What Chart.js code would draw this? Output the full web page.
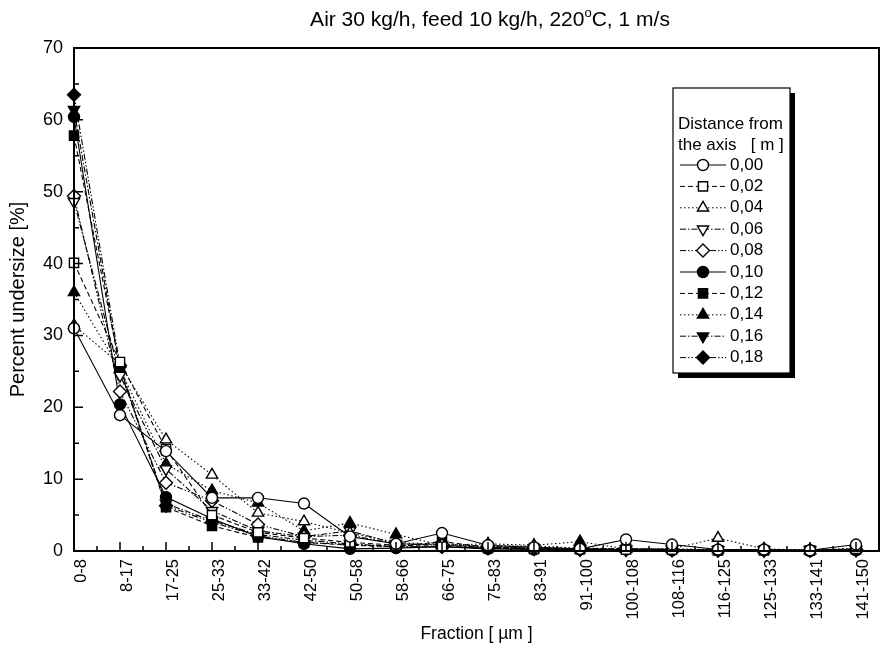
<html>
  <head>
    <meta charset="utf-8" />
    <title>Percent undersize</title>
    <style>
      body {
        margin: 0;
        padding: 0;
        background-color: #ffffff;
      }
      #wrap {
        width: 882px;
        height: 646px;
      }
    </style>
    <script src="https://cdn.jsdelivr.net/npm/chart.js"></script>
  </head>
  <body>
    <div id="wrap"><canvas id="psdChart" width="882" height="646"></canvas></div>
    <script>
      const fractions = ["0-8", "8-17", "17-25", "25-33", "33-42", "42-50", "50-58", "58-66", "66-75",
        "75-83", "83-91", "91-100", "100-108", "108-116", "116-125", "125-133", "133-141", "141-150"];
      const distances = ["0,00", "0,02", "0,04", "0,06", "0,08", "0,10", "0,12", "0,14", "0,16", "0,18"];

      const d000 = [31.0, 18.9, 13.9, 7.4, 7.4, 6.6, 2.0, 1.0, 2.5, 0.8, 0.5, 0.3, 1.6, 0.9, 0.2, 0.2, 0.1, 0.9];
      const d002 = [40.1, 26.3, 14.2, 5.0, 2.6, 1.8, 1.2, 0.8, 0.6, 0.4, 0.3, 0.3, 0.2, 0.2, 0.1, 0.1, 0.1, 0.3];
      const d004 = [31.4, 26.0, 15.5, 10.6, 5.3, 4.1, 2.5, 1.2, 0.9, 0.7, 0.7, 0.4, 0.3, 0.3, 1.8, 0.3, 0.1, 0.4];
      const d006 = [48.6, 24.4, 11.4, 5.6, 2.8, 2.0, 2.8, 1.0, 0.8, 0.5, 0.4, 0.3, 0.2, 0.2, 0.1, 0.1, 0.1, 0.2];
      const d008 = [49.4, 22.2, 9.5, 7.0, 3.7, 2.0, 2.2, 1.0, 0.9, 0.6, 0.5, 0.3, 0.3, 0.2, 0.1, 0.1, 0.1, 0.2];
      const d010 = [60.4, 20.4, 7.5, 4.5, 2.0, 1.0, 0.3, 0.4, 0.6, 0.3, 0.2, 0.2, 0.2, 0.1, 0.1, 0.1, 0.0, 0.1];
      const d012 = [57.8, 25.6, 6.1, 3.5, 1.9, 1.2, 0.8, 0.6, 1.3, 0.5, 0.4, 0.3, 0.3, 0.2, 0.1, 0.1, 0.1, 0.2];
      const d014 = [36.0, 25.3, 12.1, 8.4, 6.7, 2.8, 3.9, 2.3, 0.8, 1.0, 0.8, 1.3, 0.3, 0.3, 0.2, 0.2, 0.1, 0.3];
      const d016 = [61.4, 25.2, 6.6, 4.2, 2.3, 1.5, 1.0, 0.6, 0.6, 0.4, 0.3, 0.2, 0.2, 0.2, 0.1, 0.1, 0.1, 0.1];
      const d018 = [63.5, 25.8, 6.3, 4.0, 2.1, 1.2, 0.9, 0.6, 0.6, 0.4, 0.3, 0.2, 0.2, 0.1, 0.1, 0.1, 0.1, 0.2];

      const seriesValues = [d000, d002, d004, d006, d008, d010, d012, d014, d016, d018];

      // line styles: solid, dash, dot, dash-dot, dash-dot-dot (repeated)
      const dashes = [[], [5, 3], [1.5, 2.5], [6, 2, 1.5, 2], [6, 2, 1.5, 2, 1.5, 2]];
      const markers = [
        { style: "circle", rot: 0, r: 5.5 },
        { style: "rect", rot: 0, r: 6.5 },
        { style: "triangle", rot: 0, r: 6.5 },
        { style: "triangle", rot: 180, r: 6.5 },
        { style: "rectRot", rot: 0, r: 6.5 }
      ];

      const FONT = "'Liberation Sans', Arial, sans-serif";

      const datasets = seriesValues.map((vals, i) => {
        const m = markers[i % 5];
        const filled = i >= 5;
        return {
          label: distances[i],
          data: vals.map((v, j) => ({ x: j, y: v })),
          borderColor: "#000",
          borderWidth: 1.1,
          borderDash: dashes[i % 5],
          pointStyle: m.style,
          pointRotation: m.rot,
          pointRadius: m.r,
          pointBorderWidth: 1.4,
          pointBorderColor: "#000",
          pointBackgroundColor: filled ? "#000" : "#fff",
          tension: 0,
          fill: false,
          clip: false
        };
      });

      const framePlugin = {
        id: "frame",
        afterDraw(chart) {
          const ctx = chart.ctx;
          const a = chart.chartArea;
          const xs = chart.scales.x;
          const ys = chart.scales.y;
          ctx.save();
          ctx.strokeStyle = "#000";
          ctx.lineWidth = 2;
          ctx.strokeRect(a.left, a.top, a.right - a.left, a.bottom - a.top);
          // inward ticks
          ctx.lineWidth = 1.5;
          ctx.beginPath();
          for (let v = 0; v <= 70; v += 5) {
            const py = ys.getPixelForValue(v);
            const len = v % 10 === 0 ? 9 : 5;
            ctx.moveTo(a.left, py);
            ctx.lineTo(a.left + len, py);
          }
          for (let k = 0; k < fractions.length; k++) {
            const px = xs.getPixelForValue(k);
            ctx.moveTo(px, a.bottom);
            ctx.lineTo(px, a.bottom - 9);
            const pm = xs.getPixelForValue(k + 0.5);
            if (k + 0.5 < xs.max) {
              ctx.moveTo(pm, a.bottom);
              ctx.lineTo(pm, a.bottom - 5);
            }
          }
          ctx.stroke();

          // title with superscript
          ctx.fillStyle = "#000";
          ctx.textBaseline = "alphabetic";
          ctx.textAlign = "left";
          const f1 = "21px " + FONT;
          const f2 = "13px " + FONT;
          const p1 = "Air 30 kg/h, feed 10 kg/h, 220";
          const p2 = "o";
          const p3 = "C, 1 m/s";
          ctx.font = f1;
          const w1 = ctx.measureText(p1).width;
          const w3 = ctx.measureText(p3).width;
          ctx.font = f2;
          const w2 = ctx.measureText(p2).width;
          let tx = 490 - (w1 + w2 + w3) / 2;
          const ty = 26;
          ctx.font = f1;
          ctx.fillText(p1, tx, ty);
          tx += w1;
          ctx.font = f2;
          ctx.fillText(p2, tx, ty - 9);
          tx += w2;
          ctx.font = f1;
          ctx.fillText(p3, tx, ty);

          // legend
          const lx = 673, ly = 88, lw = 117, lh = 285;
          ctx.fillStyle = "#000";
          ctx.fillRect(lx + 5, ly + 5, lw, lh);
          ctx.fillStyle = "#fff";
          ctx.fillRect(lx, ly, lw, lh);
          ctx.lineWidth = 1.2;
          ctx.strokeStyle = "#000";
          ctx.strokeRect(lx, ly, lw, lh);
          ctx.fillStyle = "#000";
          ctx.font = "17px " + FONT;
          ctx.textBaseline = "middle";
          ctx.fillText("Distance from", lx + 5, ly + 36);
          ctx.fillText("the axis   [ m ]", lx + 5, ly + 57);
          chart.data.datasets.forEach((ds, i) => {
            const y = 165 + i * 21.4;
            ctx.save();
            ctx.lineWidth = 1;
            ctx.setLineDash(ds.borderDash);
            ctx.beginPath();
            ctx.moveTo(lx + 7, y);
            ctx.lineTo(lx + 53, y);
            ctx.stroke();
            ctx.restore();
            const opts = {
              pointStyle: ds.pointStyle,
              rotation: ds.pointRotation,
              radius: ds.pointRadius,
              borderWidth: ds.pointBorderWidth
            };
            ctx.save();
            ctx.fillStyle = ds.pointBackgroundColor;
            ctx.strokeStyle = "#000";
            ctx.lineWidth = ds.pointBorderWidth;
            Chart.helpers.drawPoint(ctx, opts, lx + 30, y);
            ctx.restore();
            ctx.fillStyle = "#000";
            ctx.font = "17px " + FONT;
            ctx.textBaseline = "middle";
            ctx.fillText(ds.label, lx + 57, y);
          });
          ctx.restore();
        }
      };

      const ctx = document.getElementById("psdChart").getContext("2d");
      const psdChart = new Chart(ctx, {
        type: "line",
        data: { datasets: datasets },
        plugins: [framePlugin],
        options: {
          responsive: false,
          animation: false,
          layout: { autoPadding: false, padding: { top: 48, right: 3, left: 0, bottom: 0 } },
          plugins: {
            legend: { display: false },
            tooltip: { enabled: false }
          },
          scales: {
            x: {
              type: "linear",
              min: 0,
              max: 17.5,
              afterBuildTicks: (scale) => {
                scale.ticks = fractions.map((f, i) => ({ value: i }));
              },
              afterFit: (scale) => {
                scale.height = 95;
                scale.paddingLeft = 0;
                scale.paddingRight = 0;
              },
              ticks: {
                autoSkip: false,
                maxRotation: 90,
                minRotation: 90,
                padding: 8,
                labelOffset: 7,
                color: "#000",
                font: { family: FONT, size: 16.5 },
                callback: (v) => fractions[v]
              },
              grid: { display: false, drawTicks: false },
              border: { display: false },
              title: {
                display: true,
                text: "Fraction [ \u00b5m ]",
                color: "#000",
                font: { family: FONT, size: 17.5 },
                padding: { top: 0, bottom: 1 }
              }
            },
            y: {
              type: "linear",
              min: 0,
              max: 70,
              afterFit: (scale) => {
                scale.width = 74;
                scale.paddingTop = 0;
                scale.paddingBottom = 0;
              },
              ticks: {
                stepSize: 10,
                padding: 11,
                color: "#000",
                font: { family: FONT, size: 18 }
              },
              grid: { display: false, drawTicks: false },
              border: { display: false },
              title: {
                display: true,
                text: "Percent undersize [%]",
                color: "#000",
                font: { family: FONT, size: 20 },
                padding: { top: 6, bottom: 0 }
              }
            }
          }
        }
      });
    </script>
  </body>
</html>
